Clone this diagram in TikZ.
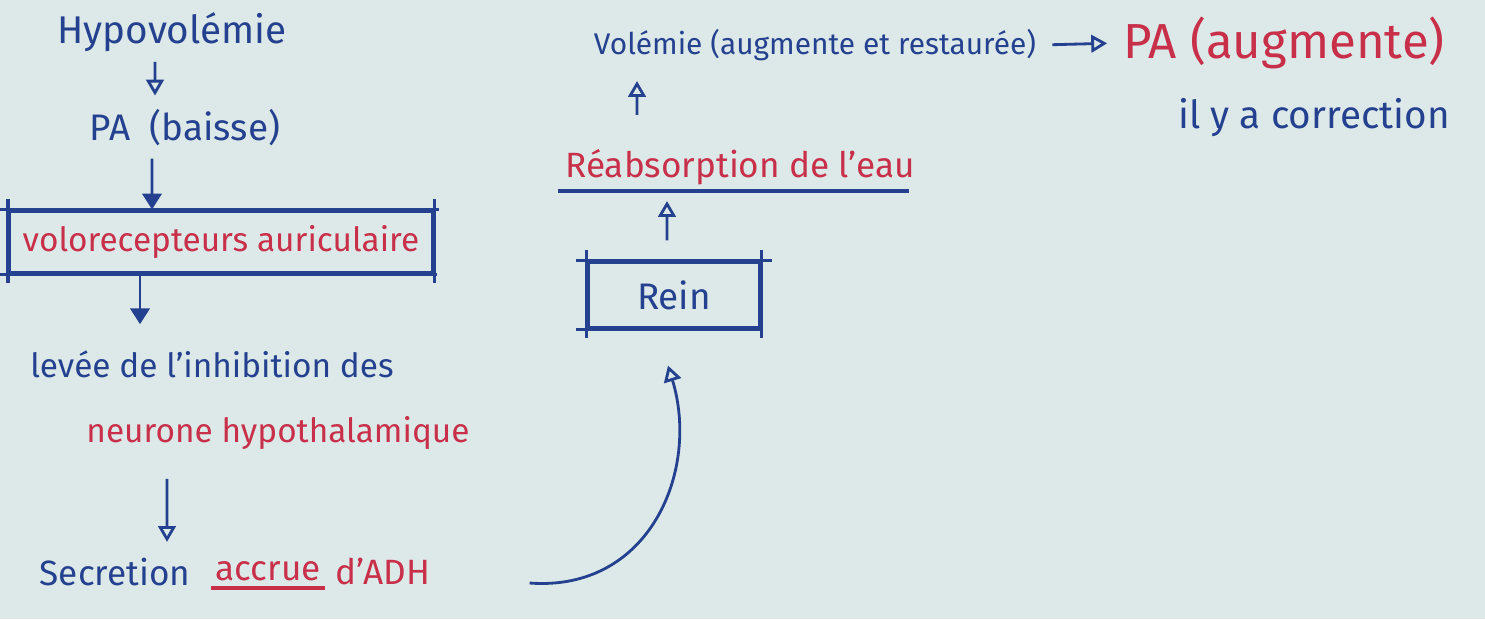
\documentclass[tikz,border=0pt]{standalone}
\usepackage{fontspec}
\setmainfont{Fira Sans}
\usetikzlibrary{arrows.meta}
\definecolor{paper}{HTML}{DDE8E9}
\definecolor{ink}{HTML}{24418F}
\definecolor{redink}{HTML}{C8304A}
\begin{document}
\begin{tikzpicture}[x=0.1mm,y=-0.1mm,
  txt/.style={inner sep=1pt, text=ink, font=\fontsize{10}{12}\selectfont},
  rtxt/.style={txt, text=redink},
  framebox/.style={draw=ink, line width=0.9pt, inner sep=0pt},
  conn/.style={draw=ink, line width=0.8pt},
  opentip/.style={-{Triangle[open,length=4.5pt,width=5pt,line width=0.8pt]}},
  fulltip/.style={-{Triangle[length=4.5pt,width=5.5pt]}}
]
% paper sheet
\fill[paper] (0,0) rectangle (1485,619);
\useasboundingbox (0,0) rectangle (1485,619);

% left column
\node[txt, font=\fontsize{11}{13}\selectfont] (hypo) at (172,32) {Hypovolémie};
\node[txt, font=\fontsize{10.5}{13}\selectfont] (pa) at (185,128) {PA \ (baisse)};
\node[framebox, text=redink, font=\fontsize{9.5}{12}\selectfont,
      minimum width=42.3mm, minimum height=6.2mm] (volo) at (221,242)
      {volorecepteurs auriculaire};
\node[txt, font=\fontsize{9.5}{12}\selectfont] (levee) at (212,364) {levée de l'inhibition des};
\node[rtxt, font=\fontsize{9.5}{12}\selectfont] (neur) at (278,433) {neurone hypothalamique};
\node[txt, font=\fontsize{10}{12}\selectfont] (sec) at (115,572) {Secretion};
\node[rtxt, font=\fontsize{10}{12}\selectfont] (accr) at (268,571) {accrue};
\node[rtxt, font=\fontsize{10}{12}\selectfont] (adh) at (383,571) {d'ADH};

% middle column
\node[framebox, text=ink, font=\fontsize{10.5}{13}\selectfont,
      minimum width=17.2mm, minimum height=6.6mm] (rein) at (674,295) {Rein};
\node[rtxt, font=\fontsize{10}{12}\selectfont] (reab) at (740,167) {Réabsorption de l'eau};
\node[txt, font=\fontsize{8.5}{11}\selectfont] (vol) at (815,45) {Volémie (augmente et restaurée)};

% right column
\node[rtxt, font=\fontsize{14}{17}\selectfont] (paup) at (1284,43) {PA (augmente)};
\node[txt, font=\fontsize{11}{13}\selectfont] (corr) at (1314,118) {il y a correction};

% overhanging strokes of the framed boxes
\draw[ink, line width=0.9pt]
  ([xshift=-1mm]volo.north west) -- ([xshift=0.5mm]volo.north east)
  ([xshift=-1mm]volo.south west) -- ([xshift=0.3mm]volo.south east)
  ([yshift=1mm]volo.north west) -- ([yshift=-0.8mm]volo.south west)
  ([yshift=1mm]volo.north east) -- ([yshift=-0.8mm]volo.south east);
\draw[ink, line width=0.9pt]
  ([xshift=-1mm]rein.north west) -- ([xshift=1mm]rein.north east)
  ([xshift=-1mm]rein.south west) -- (rein.south east)
  ([yshift=1mm]rein.north west) -- ([yshift=-0.8mm]rein.south west)
  ([yshift=1mm]rein.north east) -- ([yshift=-0.8mm]rein.south east);

% underlines
\draw[redink, line width=0.9pt] ([yshift=-0.3mm]accr.south west) -- ([yshift=-0.3mm]accr.south east);
\draw[ink, line width=1.1pt] ([yshift=-0.2mm,xshift=-0.3mm]reab.south west) -- ([yshift=-0.2mm,xshift=-1mm]reab.south east);

% connectors
\draw[conn, opentip, shorten <=0.6mm, shorten >=1.0mm]
  ([xshift=-1.7mm]hypo.south) -- ([xshift=-3mm]pa.north);
\draw[conn, fulltip, shorten <=0.8mm]
  ([xshift=-3.3mm]pa.south) -- ([xshift=-6.9mm]volo.north);
\draw[conn, fulltip, shorten >=2.2mm]
  ([xshift=-8.1mm]volo.south) -- ([xshift=-7.2mm]levee.north);
\draw[conn, opentip, shorten <=2.5mm, shorten >=1.2mm]
  ([xshift=-11.1mm]neur.south) -- ([xshift=5.2mm]sec.north);
\draw[conn, opentip]
  ([xshift=9.5mm,yshift=-1.2mm]adh.east) .. controls (650,592) and (700,470) ..
  ([xshift=-0.6mm,yshift=-3.6mm]rein.south);
\draw[conn, opentip, shorten <=2mm, shorten >=1.2mm]
  ([xshift=-0.7mm]rein.north) -- ([xshift=-7.3mm]reab.south);
\draw[conn, opentip, shorten <=3mm, shorten >=1.6mm]
  ([xshift=-10.3mm]reab.north) -- ([xshift=-17.8mm]vol.south);
\draw[conn, opentip, shorten <=1.2mm, shorten >=1.2mm]
  (vol.east) -- (paup.west);
\end{tikzpicture}
\end{document}
